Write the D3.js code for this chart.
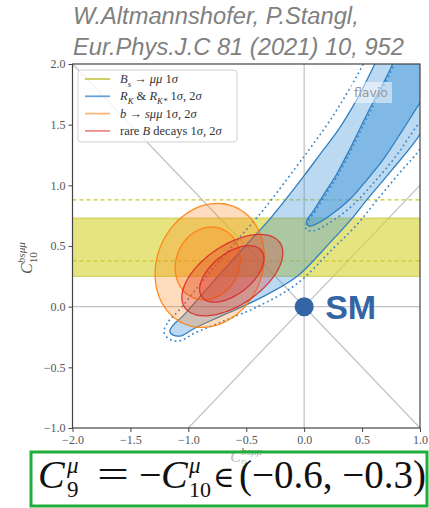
<!DOCTYPE html>
<html>
<head>
<meta charset="utf-8">
<script src="https://cdn.jsdelivr.net/npm/d3@7"></script>
<style>
  html, body { margin: 0; padding: 0; background: #fff; }
  svg { display: block; }
</style>
</head>
<body>
<script>
// ---- axis ticks ----
const xTicks = [-2.0, -1.5, -1.0, -0.5, 0.0, 0.5, 1.0];
const yTicks = [-1.0, -0.5, 0.0, 0.5, 1.0, 1.5, 2.0];

// ---- B_s -> mu mu : band in C10 (1 sigma) and dashed bounds ----
const bsmumuBand = [0.25, 0.73];
const bsmumuDashed = [0.377, 0.88];

// ---- R_K & R_K* contours, [C9, C10] ----
const rk2Sigma = [
  [-1.16, -0.20], [-1.12, -0.14], [-1.05, -0.08], [-0.80, 0.19], [-0.47, 0.54],
  [-0.29, 0.73], [0.00, 1.08], [0.14, 1.26], [0.29, 1.45], [0.45, 1.70],
  [0.61, 2.00], [0.76, 2.30], [1.00, 2.60], [1.30, 2.50], [1.25, 1.90],
  [1.00, 1.42], [0.76, 1.13], [0.54, 0.88], [0.415, 0.73], [0.225, 0.53],
  [-0.06, 0.25], [-0.38, 0.07], [-0.70, -0.07], [-0.95, -0.18], [-1.06, -0.24],
  [-1.13, -0.235]
];
const rk1Sigma = [
  [0.02, 0.70], [0.08, 0.79], [0.18, 0.94], [0.285, 1.10], [0.40, 1.31],
  [0.55, 1.60], [0.74, 1.95], [0.85, 2.20], [1.05, 2.50], [1.30, 2.40],
  [1.20, 1.95], [1.00, 1.68], [0.84, 1.44], [0.68, 1.21], [0.52, 1.02],
  [0.40, 0.89], [0.22, 0.75], [0.10, 0.68], [0.04, 0.665]
];
// dotted variant of the R_K & R_K* contours
const rk2SigmaAlt = [
  [-1.21, -0.21], [-1.17, -0.12], [-1.09, -0.04], [-0.86, 0.23], [-0.53, 0.60],
  [-0.35, 0.80], [-0.07, 1.15], [0.07, 1.33], [0.22, 1.53], [0.37, 1.76],
  [0.51, 2.00], [0.65, 2.30], [0.90, 2.70], [1.40, 2.60], [1.30, 1.80],
  [1.00, 1.30], [0.83, 1.11], [0.63, 0.88], [0.45, 0.67], [0.24, 0.47],
  [-0.06, 0.19], [-0.38, 0.01], [-0.70, -0.12], [-0.95, -0.22], [-1.07, -0.28],
  [-1.16, -0.27]
];
const rk1SigmaAlt = [
  [0.01, 0.66], [0.09, 0.78], [0.19, 0.93], [0.295, 1.09], [0.41, 1.30],
  [0.56, 1.59], [0.75, 1.94], [0.86, 2.20], [1.05, 2.55], [1.40, 2.40],
  [1.30, 1.80], [1.00, 1.52], [0.80, 1.25], [0.60, 1.02], [0.40, 0.82],
  [0.20, 0.68], [0.08, 0.625], [0.03, 0.63]
];

// ---- b -> s mu mu ellipses: center C9, center C10, semi-axes, tilt (deg) ----
const bsmm2Sigma = [-0.816, 0.34, 0.53, 0.45, 60];
const bsmm1Sigma = [-0.833, 0.356, 0.31, 0.27, 60];

// ---- rare B decays ellipses ----
const rare2Sigma = [-0.62, 0.26, 0.49, 0.25, 32];
const rare1Sigma = [-0.625, 0.27, 0.32, 0.17, 36];

// ---- Standard Model point ----
const smPoint = [0.0, 0.0];

// ---- legend entries ----
const legendItems = [
  { color: "#c9cb52", parts: [{ t: "B", i: 1 }, { t: "s", i: 1, sub: 1 }, { t: " → " }, { t: "μμ", i: 1 }, { t: " 1" }, { t: "σ", i: 1 }] },
  { color: "#64a4dc", parts: [{ t: "R", i: 1 }, { t: "K", i: 1, sub: 1 }, { t: " & " }, { t: "R", i: 1 }, { t: "K*", i: 1, sub: 1 }, { t: " 1" }, { t: "σ", i: 1 }, { t: ", 2" }, { t: "σ", i: 1 }] },
  { color: "#ffb77a", parts: [{ t: "b", i: 1 }, { t: " → " }, { t: "sμμ", i: 1 }, { t: " 1" }, { t: "σ", i: 1 }, { t: ", 2" }, { t: "σ", i: 1 }] },
  { color: "#ee8c8c", parts: [{ t: "rare " }, { t: "B", i: 1 }, { t: " decays 1" }, { t: "σ", i: 1 }, { t: ", 2" }, { t: "σ", i: 1 }] }
];

const W = 429, H = 508;
const plot = { left: 72.5, right: 420, top: 64, bottom: 428 };
const serif = "'Liberation Serif', 'DejaVu Serif', serif";

const svg = d3.select("body").append("svg")
  .attr("width", W).attr("height", H)
  .attr("viewBox", `0 0 ${W} ${H}`);

const x = d3.scaleLinear().domain([-2, 1]).range([plot.left, plot.right]);
const y = d3.scaleLinear().domain([-1, 2]).range([plot.bottom, plot.top]);

svg.append("defs").append("clipPath").attr("id", "plotClip")
  .append("rect")
  .attr("x", plot.left).attr("y", plot.top)
  .attr("width", plot.right - plot.left).attr("height", plot.bottom - plot.top);

const g = svg.append("g").attr("clip-path", "url(#plotClip)");

// ---- reference lines through the SM point ----
const refLines = [
  [[0, -1], [0, 2]],
  [[-2, 0], [1, 0]],
  [[-2, 2], [1, -1]],
  [[-1, -1], [1, 1]]
];
g.selectAll("line.ref").data(refLines).join("line")
  .attr("class", "ref")
  .attr("x1", d => x(d[0][0])).attr("y1", d => y(d[0][1]))
  .attr("x2", d => x(d[1][0])).attr("y2", d => y(d[1][1]))
  .attr("stroke", "#c4c4c4").attr("stroke-width", 1.3);

// ---- B_s -> mu mu band ----
g.append("rect")
  .attr("x", plot.left).attr("width", plot.right - plot.left)
  .attr("y", y(bsmumuBand[1])).attr("height", y(bsmumuBand[0]) - y(bsmumuBand[1]))
  .attr("fill", "#d8d63c").attr("fill-opacity", 0.65);
g.selectAll("line.bandEdge").data(bsmumuBand).join("line")
  .attr("class", "bandEdge")
  .attr("x1", plot.left).attr("x2", plot.right)
  .attr("y1", d => y(d)).attr("y2", d => y(d))
  .attr("stroke", "#c2c236").attr("stroke-width", 1).attr("stroke-opacity", 0.8);
g.selectAll("line.bandDash").data(bsmumuDashed).join("line")
  .attr("class", "bandDash")
  .attr("x1", plot.left).attr("x2", plot.right)
  .attr("y1", d => y(d)).attr("y2", d => y(d))
  .attr("stroke", "#c8c830").attr("stroke-width", 1.3)
  .attr("stroke-dasharray", "4,3");

// ---- contour helpers ----
const closed = d3.line()
  .x(d => x(d[0])).y(d => y(d[1]))
  .curve(d3.curveCatmullRomClosed.alpha(0.5));

function ellipsePoints(e) {
  const [cx, cy, a, b, deg] = e;
  const th = deg * Math.PI / 180;
  return d3.range(0, 72).map(k => {
    const t = k / 72 * 2 * Math.PI;
    return [
      cx + a * Math.cos(th) * Math.cos(t) - b * Math.sin(th) * Math.sin(t),
      cy + a * Math.sin(th) * Math.cos(t) + b * Math.cos(th) * Math.sin(t)
    ];
  });
}

// ---- R_K & R_K* ----
const blueFill = "#4f9cdc", blueLine = "#2f7fc1";
g.append("path").attr("d", closed(rk2Sigma))
  .attr("fill", blueFill).attr("fill-opacity", 0.38)
  .attr("stroke", blueLine).attr("stroke-width", 1.3);
g.append("path").attr("d", closed(rk1Sigma))
  .attr("fill", blueFill).attr("fill-opacity", 0.55)
  .attr("stroke", blueLine).attr("stroke-width", 1.3);
[rk2SigmaAlt, rk1SigmaAlt].forEach(c => {
  g.append("path").attr("d", closed(c))
    .attr("fill", "none")
    .attr("stroke", "#3b86c6").attr("stroke-width", 1.6)
    .attr("stroke-dasharray", "1.8,3")
    .attr("stroke-linecap", "butt");
});

// ---- b -> s mu mu ----
[bsmm2Sigma, bsmm1Sigma].forEach(e => {
  g.append("path").attr("d", closed(ellipsePoints(e)))
    .attr("fill", "#ff7f0e").attr("fill-opacity", 0.27)
    .attr("stroke", "#ff7f0e").attr("stroke-width", 1.3).attr("stroke-opacity", 0.9);
});

// ---- rare B decays ----
[rare2Sigma, rare1Sigma].forEach(e => {
  g.append("path").attr("d", closed(ellipsePoints(e)))
    .attr("fill", "#d62728").attr("fill-opacity", 0.27)
    .attr("stroke", "#d62728").attr("stroke-width", 1.3).attr("stroke-opacity", 0.85);
});

// ---- frame ----
svg.append("rect")
  .attr("x", plot.left).attr("y", plot.top)
  .attr("width", plot.right - plot.left).attr("height", plot.bottom - plot.top)
  .attr("fill", "none").attr("stroke", "#444").attr("stroke-width", 1.2);

// ---- axes ----
const fmt = d => d3.format(".1f")(d).replace("-", "−");
const xAxis = svg.append("g")
  .attr("transform", `translate(0,${plot.bottom})`)
  .call(d3.axisBottom(x).tickValues(xTicks).tickFormat(fmt).tickSize(4).tickPadding(3));
const yAxis = svg.append("g")
  .attr("transform", `translate(${plot.left},0)`)
  .call(d3.axisLeft(y).tickValues(yTicks).tickFormat(fmt).tickSize(4).tickPadding(3));
[xAxis, yAxis].forEach(a => {
  a.select(".domain").remove();
  a.selectAll(".tick line").attr("stroke", "#444").attr("stroke-width", 1);
  a.selectAll(".tick text").attr("font-family", serif).attr("font-size", 12).attr("fill", "#555");
});

// rich text: italic / sub / sup pieces
function rich(sel, parts, size) {
  let shift = 0;
  parts.forEach(p => {
    const target = p.sub ? size * 0.3 : p.sup ? -size * 0.42 : 0;
    const ts = sel.append("tspan").attr("dy", target - shift).text(p.t);
    shift = target;
    if (p.i) ts.attr("font-style", "italic");
    if (p.sub || p.sup) ts.attr("font-size", size * 0.7);
    if (p.dx) ts.attr("dx", p.dx);
  });
}

// ---- axis labels ----
const labelSize = 16;
const xl = svg.append("text")
  .attr("x", (plot.left + plot.right) / 2).attr("y", 462)
  .attr("text-anchor", "middle")
  .attr("font-family", serif).attr("font-size", labelSize).attr("fill", "#666");
rich(xl, [{ t: "C", i: 1 }, { t: "9", sub: 1 }, { t: "bsμμ", i: 1, sup: 1, dx: -labelSize * 0.35 }], labelSize);

const yl = svg.append("text")
  .attr("transform", `translate(32,${(plot.top + plot.bottom) / 2 + 12}) rotate(-90)`)
  .attr("text-anchor", "middle")
  .attr("font-family", serif).attr("font-size", labelSize).attr("fill", "#555");
rich(yl, [{ t: "C", i: 1 }, { t: "10", sub: 1 }, { t: "bsμμ", i: 1, sup: 1, dx: -labelSize * 0.7 }], labelSize);

// ---- legend ----
const lg = svg.append("g");
lg.append("rect")
  .attr("x", 78).attr("y", 70).attr("width", 159).attr("height", 72).attr("rx", 3)
  .attr("fill", "#fff").attr("fill-opacity", 0.8)
  .attr("stroke", "#d0d0d0").attr("stroke-width", 1);
legendItems.forEach((it, i) => {
  const yy = 79 + i * 17.3;
  lg.append("line")
    .attr("x1", 85).attr("x2", 110).attr("y1", yy).attr("y2", yy)
    .attr("stroke", it.color).attr("stroke-width", 1.8);
  const t = lg.append("text")
    .attr("x", 120).attr("y", yy + 4)
    .attr("font-family", serif).attr("font-size", 12.5).attr("fill", "#333");
  rich(t, it.parts, 12.5);
});

// ---- flavio tag ----
svg.append("rect")
  .attr("x", 350).attr("y", 82).attr("width", 42).attr("height", 21)
  .attr("fill", "#fff").attr("fill-opacity", 0.5);
svg.append("text")
  .attr("x", 371).attr("y", 97).attr("text-anchor", "middle")
  .attr("font-family", "'DejaVu Sans', sans-serif").attr("font-size", 12.5)
  .attr("fill", "#999").text("flavio");

// ---- SM point ----
svg.append("circle")
  .attr("cx", x(smPoint[0])).attr("cy", y(smPoint[1])).attr("r", 9.5)
  .attr("fill", "#3465a4");
svg.append("text")
  .attr("x", x(smPoint[0]) + 21).attr("y", y(smPoint[1]) + 12)
  .attr("font-family", "'Liberation Sans', Arial, sans-serif")
  .attr("font-weight", "bold").attr("font-size", 34)
  .attr("fill", "#3465a4").text("SM");

// ---- reference line ----
const title = svg.append("g")
  .attr("font-family", "'Liberation Sans', Arial, sans-serif")
  .attr("font-style", "italic").attr("font-size", 23.7).attr("fill", "#808080");
title.append("text").attr("x", 73).attr("y", 24).text("W.Altmannshofer, P.Stangl,");
title.append("text").attr("x", 73).attr("y", 55).text("Eur.Phys.J.C 81 (2021) 10, 952");

// ---- result box ----
svg.append("rect")
  .attr("x", 31).attr("y", 452).attr("width", 396).attr("height", 54)
  .attr("fill", "#fff").attr("fill-opacity", 0.55)
  .attr("stroke", "#1fae3a").attr("stroke-width", 3);
const fm = svg.append("g").attr("font-family", serif).attr("fill", "#111");
const big = 40, small = 23, base = 488;
fm.append("text").attr("x", 38).attr("y", base).attr("font-size", big).attr("font-style", "italic").text("C");
fm.append("text").attr("x", 67).attr("y", base - 15).attr("font-size", small).attr("font-style", "italic").text("μ");
fm.append("text").attr("x", 67).attr("y", base + 9).attr("font-size", small).text("9");
fm.append("text").attr("x", 97).attr("y", base)
  .attr("font-size", big).attr("textLength", 32).attr("lengthAdjust", "spacingAndGlyphs").text("=");
fm.append("text").attr("x", 139).attr("y", base).attr("font-size", big).text("−");
fm.append("text").attr("x", 161).attr("y", base).attr("font-size", big).attr("font-style", "italic").text("C");
fm.append("text").attr("x", 189).attr("y", base - 15).attr("font-size", small).attr("font-style", "italic").text("μ");
fm.append("text").attr("x", 189).attr("y", base + 9).attr("font-size", 22).text("10");
fm.append("text").attr("x", 213).attr("y", base - 1).attr("font-size", 29).text("∈");
fm.append("text").attr("x", 426).attr("y", base).attr("text-anchor", "end").attr("font-size", 39).text("(−0.6, −0.3)");
</script>
</body>
</html>
